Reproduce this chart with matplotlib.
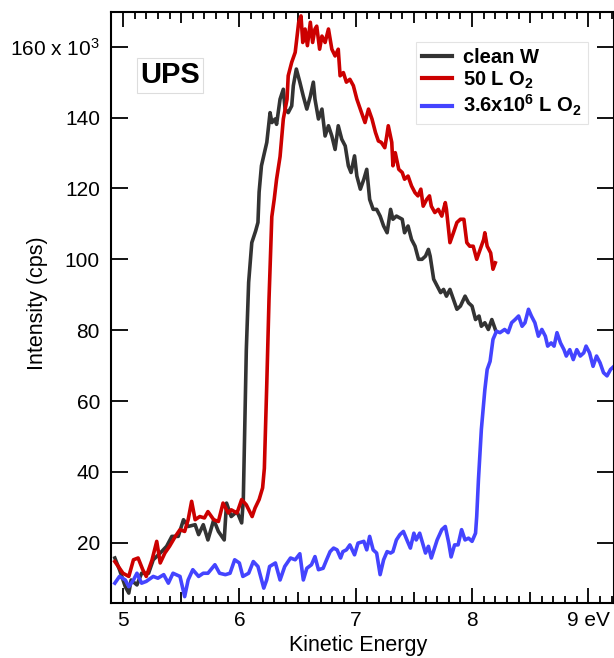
import matplotlib
matplotlib.use("Agg")
import matplotlib.pyplot as plt
from matplotlib.ticker import FixedLocator

plt.rcParams['font.family'] = ['Liberation Sans', 'DejaVu Sans']
plt.rcParams['mathtext.fontset'] = 'custom'
plt.rcParams['mathtext.rm'] = 'Liberation Sans'
plt.rcParams['mathtext.default'] = 'regular'

# ---- data (intensity in units of 10^3 cps) ----
clean_x = [4.93, 4.97, 5.02, 5.05, 5.07, 5.12, 5.16, 5.22, 5.26, 5.32, 5.375, 5.42, 5.475, 5.52, 5.56,
           5.62, 5.65, 5.69, 5.73, 5.78, 5.82, 5.87, 5.89, 5.93, 5.98, 6.02, 6.034, 6.06, 6.08, 6.107,
           6.14, 6.16, 6.17, 6.19, 6.215, 6.236, 6.264, 6.28, 6.307, 6.32, 6.35, 6.378, 6.393, 6.42,
           6.45, 6.464, 6.49, 6.52, 6.55, 6.58, 6.61, 6.636, 6.65, 6.68, 6.71, 6.737, 6.766, 6.795,
           6.823, 6.85, 6.88, 6.91, 6.937, 6.96, 6.99, 7.01, 7.04, 7.07, 7.095, 7.12, 7.15, 7.18, 7.21,
           7.24, 7.27, 7.30, 7.32, 7.35, 7.40, 7.42, 7.45, 7.48, 7.51, 7.54, 7.57, 7.60, 7.625, 7.64,
           7.67, 7.70, 7.73, 7.755, 7.78, 7.81, 7.84, 7.87, 7.90, 7.94, 7.97, 8.00, 8.03, 8.06, 8.08,
           8.11, 8.14, 8.17, 8.20]
clean_y = [15.7, 12.4, 7.6, 5.8, 9.5, 8.1, 11.4, 11.4, 15.2, 17.1, 19.0, 21.8, 21.8, 26.5, 24.6,
           25.1, 22.3, 25.1, 20.8, 26.5, 23.2, 20.8, 31.2, 27.4, 28.8, 25.6, 32.0, 74.5, 93.5, 104.7,
           108.0, 110.4, 119.0, 126.4, 130.0, 133.0, 141.4, 138.6, 139.6, 138.1, 145.2, 148.0, 142.4, 141.4,
           143.3, 149.0, 153.7, 150.0, 146.0, 142.4, 146.0, 150.0, 145.2, 139.6, 142.4, 134.8, 137.7, 134.8,
           131.0, 137.7, 133.9, 132.0, 126.4, 124.5, 129.2, 123.5, 119.8, 122.6, 125.4, 116.9, 114.1, 114.1, 112.2,
           109.4, 107.5, 114.1, 111.3, 112.2, 111.3, 107.5, 109.4, 105.6, 103.7, 100.0, 100.0, 100.9, 102.8, 100.9,
           94.4, 92.5, 90.6, 91.5, 89.6, 91.5, 88.7, 85.9, 86.8, 89.6, 87.7, 86.8, 83.0, 84.0, 81.1,
           82.1, 80.2, 83.0, 80.2]

o2_50_x = [4.93, 4.96, 5.00, 5.05, 5.09, 5.13, 5.17, 5.20, 5.25, 5.29, 5.32, 5.36, 5.40, 5.45, 5.49,
           5.53, 5.56, 5.59, 5.62, 5.66, 5.70, 5.73, 5.78, 5.82, 5.86, 5.905, 5.93, 5.98, 6.02, 6.06,
           6.11, 6.135, 6.17, 6.20, 6.215, 6.236, 6.255, 6.279, 6.30, 6.32, 6.35, 6.378, 6.41, 6.42,
           6.45, 6.48, 6.49, 6.51, 6.53, 6.545, 6.565, 6.585, 6.61, 6.63, 6.65, 6.665, 6.69, 6.71,
           6.737, 6.766, 6.795, 6.823, 6.85, 6.866, 6.894, 6.92, 6.95, 6.98, 7.01, 7.05, 7.08, 7.11,
           7.14, 7.17, 7.195, 7.22, 7.25, 7.267, 7.28, 7.31, 7.32, 7.34, 7.37, 7.40, 7.42, 7.45, 7.48,
           7.51, 7.535, 7.56, 7.58, 7.61, 7.634, 7.65, 7.68, 7.71, 7.74, 7.77, 7.78, 7.81, 7.84, 7.87,
           7.90, 7.93, 7.955, 7.98, 8.01, 8.04, 8.07, 8.10, 8.11, 8.13, 8.16, 8.18, 8.20]
o2_50_y = [14.7, 13.3, 11.4, 10.5, 15.2, 15.7, 12.4, 10.5, 15.2, 20.4, 14.3, 17.1, 19.0, 21.8, 23.7,
           23.2, 26.5, 31.7, 26.5, 27.4, 27.0, 28.8, 26.5, 26.0, 31.2, 28.4, 29.3, 28.4, 32.2, 30.7,
           27.4, 29.8, 32.2, 35.5, 41.0, 65.0, 88.7, 112.0, 117.0, 122.6, 129.0, 139.6, 145.2, 151.8,
           155.6, 158.4, 161.2, 166.9, 168.7, 161.2, 165.0, 160.3, 166.9, 161.2, 165.0, 165.8, 159.3, 163.0,
           161.2, 165.0, 159.3, 157.4, 159.3, 151.8, 152.7, 150.0, 150.8, 149.0, 145.2, 141.4, 138.6, 142.4,
           139.6, 135.8, 133.4, 133.0, 131.5, 134.8, 137.7, 133.0, 126.4, 130.1, 125.4, 124.5, 122.6, 123.5, 120.7,
           118.8, 117.9, 119.8, 115.0, 116.9, 117.9, 115.0, 113.2, 114.1, 112.2, 116.0, 114.1, 104.7, 107.5, 110.4,
           111.3, 111.3, 104.7, 103.7, 103.7, 100.0, 102.8, 105.6, 107.5, 103.7, 101.8, 97.2, 99.0]

o2_big_x = [4.93, 4.97, 5.02, 5.05, 5.09, 5.12, 5.16, 5.20, 5.26, 5.30, 5.35, 5.39, 5.43, 5.49, 5.53,
            5.56, 5.60, 5.65, 5.69, 5.73, 5.79, 5.83, 5.88, 5.92, 5.96, 6.00, 6.03, 6.08, 6.12, 6.16,
            6.21, 6.235, 6.26, 6.31, 6.35, 6.39, 6.44, 6.48, 6.52, 6.55, 6.58, 6.62, 6.65, 6.68, 6.72,
            6.75, 6.78, 6.81, 6.84, 6.87, 6.89, 6.92, 6.95, 6.99, 7.02, 7.07, 7.095, 7.12, 7.15, 7.18,
            7.21, 7.24, 7.27, 7.30, 7.32, 7.35, 7.38, 7.41, 7.44, 7.47, 7.50, 7.52, 7.55, 7.60, 7.625,
            7.65, 7.70, 7.74, 7.77, 7.80, 7.82, 7.85, 7.88, 7.91, 7.94, 7.97, 8.00, 8.03, 8.04, 8.055,
            8.08, 8.11, 8.13, 8.155, 8.18, 8.21, 8.24, 8.28, 8.31, 8.34, 8.37, 8.40, 8.43, 8.455, 8.485,
            8.51, 8.54, 8.57, 8.60, 8.63, 8.65, 8.68, 8.705, 8.73, 8.76, 8.79, 8.81, 8.84, 8.87, 8.90,
            8.93, 8.96, 8.98, 9.01, 9.04, 9.07, 9.10, 9.13, 9.16, 9.19, 9.22]
o2_big_y = [8.6, 10.5, 9.5, 7.6, 9.5, 11.4, 8.6, 9.1, 10.5, 10.0, 11.0, 8.6, 11.4, 10.5, 4.8,
            9.5, 12.4, 10.5, 11.4, 11.4, 13.8, 11.4, 11.0, 11.4, 15.2, 14.3, 10.5, 11.4, 14.7, 13.3,
            7.2, 9.5, 13.3, 14.3, 9.5, 13.3, 15.7, 15.2, 16.9, 9.5, 12.8, 13.8, 16.1, 12.4, 12.8,
            15.2, 17.5, 18.5, 18.0, 15.7, 17.5, 18.0, 19.4, 16.6, 19.9, 20.4, 18.0, 21.8, 18.0, 17.1,
            11.0, 15.2, 17.5, 17.1, 17.5, 20.8, 22.3, 23.2, 20.8, 18.5, 22.7, 20.8, 22.7, 17.1, 19.0,
            15.7, 20.8, 23.7, 24.6, 19.9, 16.0, 19.4, 19.4, 23.7, 20.8, 21.3, 20.4, 22.7, 27.4, 37.8,
            52.0, 63.2, 68.9, 71.2, 77.4, 79.7, 79.3, 80.2, 79.3, 82.1, 83.0, 84.0, 81.1, 82.1, 85.9,
            84.0, 82.1, 78.3, 80.2, 78.3, 75.5, 76.4, 75.5, 79.3, 76.4, 74.5, 72.7, 74.5, 71.7, 74.5,
            72.7, 73.6, 75.5, 73.6, 69.8, 72.7, 70.8, 68.0, 67.1, 68.9, 69.8]

series_labels = ['clean W', '50 L O$_2$', '3.6x10$^6$ L O$_2$']
series_colors = ['#333333', '#cc0000', '#4444ff']
x_ticks = [5, 6, 7, 8, 9]
x_tick_labels = ['5', '6', '7', '8', '9 eV']
y_ticks = [20, 40, 60, 80, 100, 120, 140, 160]
y_tick_labels = ['20', '40', '60', '80', '100', '120', '140', '160 x 10$^3$']

assert len(clean_x) == len(clean_y)
assert len(o2_50_x) == len(o2_50_y)
assert len(o2_big_x) == len(o2_big_y)

fig = plt.figure(figsize=(6.14, 6.58), dpi=100)
ax = fig.add_axes([111 / 614, 55 / 658, 503 / 614, 591 / 658])

for xs, ys, lab, col in zip([clean_x, o2_50_x, o2_big_x], [clean_y, o2_50_y, o2_big_y],
                            series_labels, series_colors):
    ax.plot(xs, ys, color=col, lw=2.6, label=lab, solid_joinstyle='round')

ax.set_xlim(4.897, 9.22)
ax.set_ylim(3.0, 169.8)

ax.xaxis.set_major_locator(FixedLocator(x_ticks))
ax.set_xticklabels(x_tick_labels)
minor_pos = [round(4.9 + 0.1 * i, 2) for i in range(44)]
minor_pos = [p for p in minor_pos if abs(p - round(p)) > 1e-6]
ax.xaxis.set_minor_locator(FixedLocator(minor_pos))
ax.yaxis.set_major_locator(FixedLocator(y_ticks))
ax.set_yticklabels(y_tick_labels)

ax.tick_params(axis='both', which='both', direction='in', top=True, right=True,
               labelsize=15, width=1.3, color='black')
ax.tick_params(axis='x', which='major', length=11, pad=6)
ax.tick_params(axis='y', which='major', length=12, pad=8)
ax.tick_params(axis='x', which='minor', length=5)
for sp in ax.spines.values():
    sp.set_linewidth(1.5)

mt = ax.xaxis.get_minor_ticks(len(minor_pos))
for tk, p in zip(mt, minor_pos):
    if abs(p * 2 - round(p * 2)) < 1e-6:
        tk.tick1line.set_markersize(8)
        tk.tick2line.set_markersize(8)

ax.set_xlabel('Kinetic Energy', fontsize=15.5)
ax.xaxis.set_label_coords((358 - 111) / 503, -(645 - 603) / 591)
ax.set_ylabel('Intensity (cps)', fontsize=15.5)
ax.yaxis.set_label_coords(-(111 - 37) / 503, 1 - (303 - 12) / 591)
ax.xaxis.label.set_va('center')
ax.yaxis.label.set_va('center')

leg = ax.legend(loc='upper right', frameon=True, fancybox=False,
                prop={'weight': 'bold', 'size': 14.5}, handlelength=1.5, handletextpad=0.55,
                borderpad=0.3, labelspacing=0.12, borderaxespad=0)
leg.set_bbox_to_anchor(((588 - 111) / 503, 1 - (42 - 12) / 591), transform=ax.transAxes)
leg.get_frame().set_edgecolor('#dddddd')
leg.get_frame().set_linewidth(0.8)
for h in leg.get_lines():
    h.set_linewidth(3)

ax.text((140 - 111) / 503, 1 - (75 - 12) / 591, 'UPS', transform=ax.transAxes,
        fontsize=21, fontweight='bold', va='center', ha='left',
        bbox=dict(boxstyle='square,pad=0.12', fc='white', ec='#dddddd', lw=0.8))

fig.savefig('out.png', dpi=100)
